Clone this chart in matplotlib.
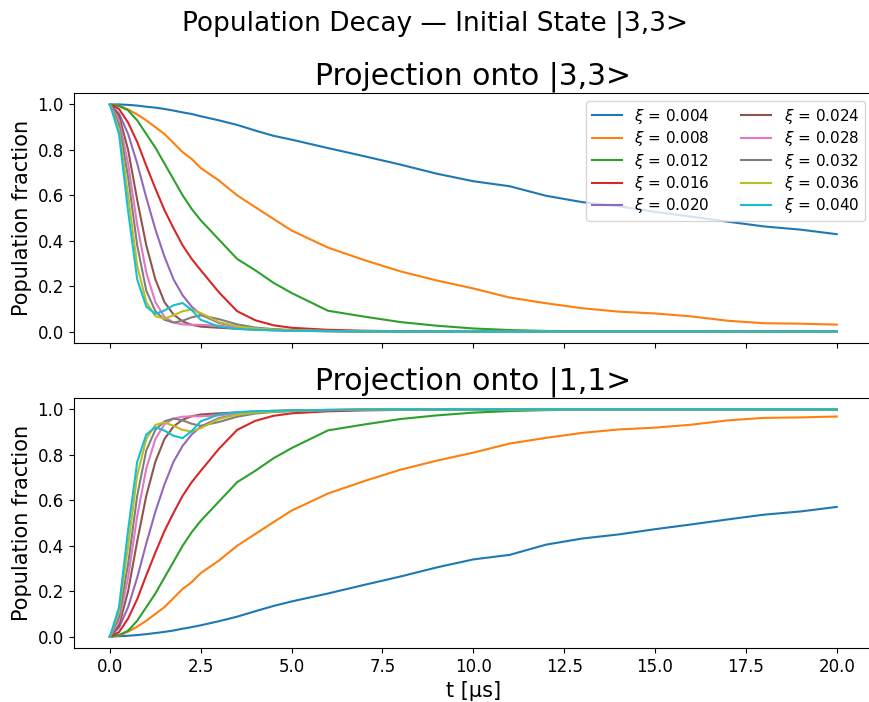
import matplotlib
matplotlib.use('Agg')
import matplotlib.pyplot as plt

# time grid [us]
t = [0, 0.25, 0.5, 0.75, 1.0, 1.25, 1.5, 1.75, 2.0, 2.25, 2.5, 3.0, 3.5, 4.0, 4.5,
     5, 6, 7, 8, 9, 10, 11, 12, 13, 14, 15, 16, 17, 18, 19, 20]

xi_values = [0.004, 0.008, 0.012, 0.016, 0.020, 0.024, 0.028, 0.032, 0.036, 0.040]

# population in |3,3>, one list per xi
p33_004 = [1.0, 1.0, 0.998, 0.995, 0.99, 0.986, 0.98, 0.973, 0.965, 0.958, 0.948, 0.93, 0.91, 0.885, 0.862,
           0.845, 0.808, 0.772, 0.735, 0.695, 0.662, 0.64, 0.598, 0.57, 0.552, 0.527, 0.506, 0.484, 0.463, 0.449, 0.429]
p33_008 = [1.0, 0.995, 0.978, 0.956, 0.93, 0.90, 0.87, 0.83, 0.79, 0.76, 0.72, 0.665, 0.6, 0.548, 0.496,
           0.445, 0.37, 0.315, 0.265, 0.225, 0.19, 0.15, 0.125, 0.103, 0.088, 0.08, 0.067, 0.048, 0.037, 0.035, 0.031]
p33_012 = [1.0, 0.993, 0.974, 0.93, 0.87, 0.81, 0.74, 0.67, 0.6, 0.54, 0.49, 0.405, 0.32, 0.27, 0.215,
           0.17, 0.092, 0.066, 0.042, 0.026, 0.014, 0.007, 0.003, 0.001, 0, 0, 0, 0, 0, 0, 0]
p33_016 = [1.0, 0.98, 0.92, 0.835, 0.73, 0.63, 0.535, 0.455, 0.38, 0.32, 0.27, 0.173, 0.09, 0.05, 0.028,
           0.017, 0.008, 0.004, 0.002, 0.001, 0, 0, 0, 0, 0, 0, 0, 0, 0, 0, 0]
p33_020 = [1.0, 0.96, 0.87, 0.74, 0.59, 0.45, 0.33, 0.23, 0.16, 0.11, 0.075, 0.038, 0.022, 0.014, 0.009,
           0.006, 0.003, 0.001, 0, 0, 0, 0, 0, 0, 0, 0, 0, 0, 0, 0, 0]
p33_024 = [1.0, 0.95, 0.8, 0.58, 0.38, 0.23, 0.13, 0.075, 0.045, 0.03, 0.022, 0.017, 0.013, 0.009, 0.006,
           0.004, 0.002, 0.001, 0, 0, 0, 0, 0, 0, 0, 0, 0, 0, 0, 0, 0]
p33_028 = [1.0, 0.93, 0.74, 0.47, 0.26, 0.13, 0.065, 0.04, 0.032, 0.03, 0.03, 0.026, 0.018, 0.012, 0.008,
           0.005, 0.002, 0.001, 0, 0, 0, 0, 0, 0, 0, 0, 0, 0, 0, 0, 0]
p33_032 = [1.0, 0.91, 0.68, 0.38, 0.18, 0.09, 0.052, 0.04, 0.048, 0.063, 0.072, 0.055, 0.032, 0.018, 0.011,
           0.007, 0.003, 0.001, 0, 0, 0, 0, 0, 0, 0, 0, 0, 0, 0, 0, 0]
p33_036 = [1.0, 0.89, 0.6, 0.29, 0.13, 0.068, 0.057, 0.072, 0.09, 0.097, 0.082, 0.042, 0.023, 0.014, 0.009,
           0.006, 0.003, 0.001, 0, 0, 0, 0, 0, 0, 0, 0, 0, 0, 0, 0, 0]
p33_040 = [1.0, 0.87, 0.53, 0.23, 0.11, 0.078, 0.093, 0.116, 0.126, 0.095, 0.052, 0.022, 0.012, 0.008, 0.006,
           0.004, 0.002, 0.001, 0, 0, 0, 0, 0, 0, 0, 0, 0, 0, 0, 0, 0]

# population in |1,1>, one list per xi
p11_004 = [0, 0.002, 0.004, 0.007, 0.011, 0.016, 0.021, 0.027, 0.035, 0.042, 0.05, 0.068, 0.088, 0.112, 0.135,
           0.155, 0.19, 0.228, 0.265, 0.305, 0.34, 0.36, 0.405, 0.432, 0.45, 0.473, 0.494, 0.516, 0.537, 0.551, 0.571]
p11_008 = [0, 0.005, 0.022, 0.044, 0.07, 0.1, 0.13, 0.17, 0.21, 0.24, 0.28, 0.335, 0.4, 0.452, 0.504,
           0.555, 0.63, 0.685, 0.735, 0.775, 0.81, 0.85, 0.875, 0.897, 0.912, 0.92, 0.933, 0.952, 0.963, 0.965, 0.969]
p11_012 = [0, 0.007, 0.026, 0.07, 0.13, 0.19, 0.26, 0.33, 0.4, 0.46, 0.51, 0.595, 0.68, 0.73, 0.785,
           0.83, 0.908, 0.934, 0.958, 0.974, 0.986, 0.993, 0.997, 0.999, 1.0, 1.0, 1.0, 1.0, 1.0, 1.0, 1.0]
p11_016 = [0, 0.02, 0.08, 0.165, 0.27, 0.37, 0.465, 0.545, 0.62, 0.68, 0.73, 0.827, 0.91, 0.95, 0.972,
           0.983, 0.992, 0.996, 0.998, 0.999, 1.0, 1.0, 1.0, 1.0, 1.0, 1.0, 1.0, 1.0, 1.0, 1.0, 1.0]
p11_020 = [0, 0.04, 0.13, 0.26, 0.41, 0.55, 0.67, 0.77, 0.84, 0.89, 0.925, 0.962, 0.978, 0.986, 0.991,
           0.994, 0.997, 0.999, 1.0, 1.0, 1.0, 1.0, 1.0, 1.0, 1.0, 1.0, 1.0, 1.0, 1.0, 1.0, 1.0]
p11_024 = [0, 0.05, 0.2, 0.42, 0.62, 0.77, 0.87, 0.925, 0.955, 0.97, 0.978, 0.983, 0.987, 0.991, 0.994,
           0.996, 0.998, 0.999, 1.0, 1.0, 1.0, 1.0, 1.0, 1.0, 1.0, 1.0, 1.0, 1.0, 1.0, 1.0, 1.0]
p11_028 = [0, 0.07, 0.26, 0.53, 0.74, 0.87, 0.935, 0.96, 0.968, 0.97, 0.97, 0.974, 0.982, 0.988, 0.992,
           0.995, 0.998, 0.999, 1.0, 1.0, 1.0, 1.0, 1.0, 1.0, 1.0, 1.0, 1.0, 1.0, 1.0, 1.0, 1.0]
p11_032 = [0, 0.09, 0.32, 0.62, 0.82, 0.91, 0.948, 0.96, 0.952, 0.937, 0.928, 0.945, 0.968, 0.982, 0.989,
           0.993, 0.997, 0.999, 1.0, 1.0, 1.0, 1.0, 1.0, 1.0, 1.0, 1.0, 1.0, 1.0, 1.0, 1.0, 1.0]
p11_036 = [0, 0.11, 0.4, 0.71, 0.87, 0.932, 0.943, 0.928, 0.91, 0.903, 0.918, 0.958, 0.977, 0.986, 0.991,
           0.994, 0.997, 0.999, 1.0, 1.0, 1.0, 1.0, 1.0, 1.0, 1.0, 1.0, 1.0, 1.0, 1.0, 1.0, 1.0]
p11_040 = [0, 0.13, 0.47, 0.77, 0.89, 0.922, 0.907, 0.884, 0.874, 0.905, 0.948, 0.978, 0.988, 0.992, 0.994,
           0.996, 0.998, 0.999, 1.0, 1.0, 1.0, 1.0, 1.0, 1.0, 1.0, 1.0, 1.0, 1.0, 1.0, 1.0, 1.0]

pop33 = [p33_004, p33_008, p33_012, p33_016, p33_020, p33_024, p33_028, p33_032, p33_036, p33_040]
pop11 = [p11_004, p11_008, p11_012, p11_016, p11_020, p11_024, p11_028, p11_032, p11_036, p11_040]

fig, (ax1, ax2) = plt.subplots(2, 1, figsize=(8.69, 7.02), dpi=100, sharex=True)

for xi, y33, y11 in zip(xi_values, pop33, pop11):
    ax1.plot(t, y33, label=rf'$\xi$ = {xi:.3f}', lw=1.5)
    ax2.plot(t, y11, label=rf'$\xi$ = {xi:.3f}', lw=1.5)

ax1.set_title('Projection onto |3,3>', fontsize=21.5)
ax2.set_title('Projection onto |1,1>', fontsize=21.5)
ax1.set_ylabel('Population fraction', fontsize=15)
ax2.set_ylabel('Population fraction', fontsize=15)
ax2.set_xlabel('t [µs]', fontsize=15)
for ax in (ax1, ax2):
    ax.tick_params(labelsize=12)
ax1.legend(ncol=2, fontsize=11, loc='upper right', labelspacing=0.22)

fig.suptitle('Population Decay — Initial State |3,3>', fontsize=19, y=0.985)

# axes positions (right edge runs slightly past the figure, as in the original)
ax1.set_position([0.0847, 0.5114, 0.92, 0.356])
ax2.set_position([0.0847, 0.0769, 0.92, 0.356])

fig.savefig('out.png', dpi=100)
